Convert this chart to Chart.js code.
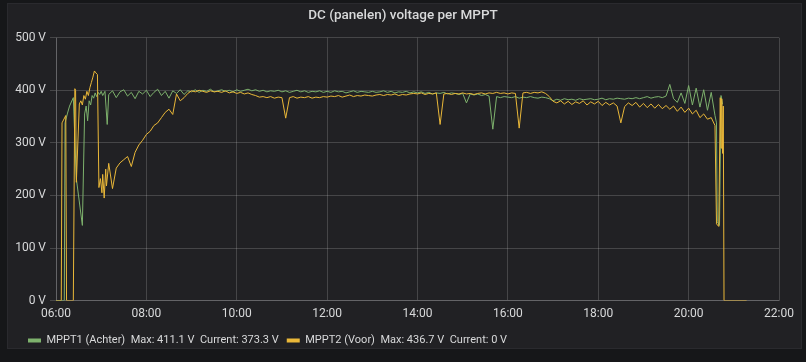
<!DOCTYPE html>
<html>
<head>
<meta charset="utf-8">
<script src="https://cdn.jsdelivr.net/npm/chart.js@4.4.1/dist/chart.umd.min.js"></script>
<style>
    html, body { margin: 0; padding: 0; background: #161719; }
    #panel {
        position: absolute; left: 7px; top: 3px; width: 795px; height: 346px;
        background: #212124; border: 1px solid #2a2a2e; box-sizing: border-box;
    }
    #wrap { position: absolute; left: 0; top: 0; width: 806px; height: 362px; }
</style>
</head>
<body>
<div id="panel"></div>
<div id="wrap"><canvas id="mpptChart" width="806" height="362"></canvas></div>
<script>
// Tick labels
const xTickLabels = ['06:00', '08:00', '10:00', '12:00', '14:00', '16:00', '18:00', '20:00', '22:00'];
const yTickValues = [0, 100, 200, 300, 400, 500];

const seriesNames = ['MPPT1 (Achter)', 'MPPT2 (Voor)'];
const seriesColors = ['#7eb26d', '#eab839'];

// Regular samples (every 5 minutes) from 07:10 to 20:35
const dayStart = '07:10';
const dayStepMin = 5;

// MPPT1 (Achter) - morning start-up, irregular samples
const mppt1Morning = [
    ['06:00', 0], ['06:11', 0], ['06:12', 338], ['06:15', 355], ['06:18', 370], ['06:23', 386],
    ['06:27', 232], ['06:35', 143], ['06:38', 355], ['06:40', 370], ['06:42', 342], ['06:44', 380],
    ['06:46', 372], ['06:48', 390], ['06:50', 385], ['06:52', 395], ['06:54', 388], ['06:56', 396],
    ['06:58', 392], ['07:00', 398], ['07:02', 390], ['07:05', 398], ['07:08', 335]
];
// MPPT1 - day, 5 minute samples
const mppt1Day = [
    392, 399, 386, 397, 401, 389, 396, 384, 398, 393,                  // 07:10
    400, 388, 396, 402, 390, 398, 385, 399, 394, 401, 392, 399,        // 08:00
    397, 401, 396, 400, 398, 402, 397, 399, 401, 398, 400, 397,        // 09:00
    401, 398, 400, 402, 399, 401, 398, 400, 397, 399, 398, 400,        // 10:00
    397, 399, 396, 398, 400, 397, 399, 396, 398, 397, 399, 396,        // 11:00
    398, 396, 399, 397, 398, 395, 397, 399, 396, 398, 397, 396,        // 12:00
    398, 396, 397, 399, 396, 398, 395, 397, 396, 398, 395, 397,        // 13:00
    395, 397, 394, 396, 393, 395, 394, 396, 393, 395, 394, 392,        // 14:00
    394, 376, 393, 391, 393, 390, 392, 389, 326, 388, 386, 388,        // 15:00
    387, 386, 388, 385, 387, 386, 388, 386, 385, 387, 386, 384,        // 16:00
    380, 383, 381, 384, 382, 383, 381, 384, 382, 383, 384, 382,        // 17:00
    383, 385, 382, 384, 383, 385, 384, 383, 385, 384, 386, 384,        // 18:00
    386, 388, 385, 387, 388, 386, 389, 411.1, 384, 377, 395, 375,      // 19:00
    409, 372, 404, 368, 401, 362, 396, 352                             // 20:00
];
// MPPT1 - evening shut-down
const mppt1Evening = [
    ['20:37', 338], ['20:38', 150], ['20:41', 143], ['20:43', 390], ['20:45', 373.3]
];

// MPPT2 (Voor) - morning start-up, irregular samples
const mppt2Morning = [
    ['06:00', 0], ['06:07', 0], ['06:08', 338], ['06:13', 352], ['06:14', 0], ['06:23', 0],
    ['06:25', 403], ['06:26', 400], ['06:27', 225], ['06:31', 374], ['06:33', 380], ['06:35', 372],
    ['06:37', 390], ['06:39', 383], ['06:41', 398], ['06:43', 390], ['06:45', 405], ['06:47', 415],
    ['06:49', 425], ['06:51', 436.7], ['06:53', 433], ['06:55', 430], ['06:57', 215], ['06:59', 232],
    ['07:01', 205], ['07:02', 240], ['07:04', 195], ['07:06', 250], ['07:07', 218]
];
// MPPT2 - day, 5 minute samples
const mppt2Day = [
    261, 213, 252, 262, 268, 274, 255, 282, 296, 305,                  // 07:10
    316, 322, 333, 338, 348, 358, 364, 354, 393, 380, 386, 394,        // 08:00
    399, 397, 400, 398, 396, 399, 397, 398, 396, 399, 395, 397,        // 09:00
    394, 396, 393, 395, 392, 390, 387, 388, 386, 388, 385, 387,        // 10:00
    386, 347, 386, 388, 385, 387, 386, 388, 385, 387, 386, 388,        // 11:00
    387, 389, 388, 390, 387, 389, 391, 388, 390, 389, 391, 390,        // 12:00
    389, 391, 392, 390, 392, 391, 393, 390, 392, 391, 393, 394,        // 13:00
    393, 395, 392, 394, 393, 395, 335, 393, 394, 392, 394, 393,        // 14:00
    395, 393, 394, 392, 394, 395, 393, 395, 394, 396, 394, 395,        // 15:00
    393, 395, 394, 328, 395, 396, 394, 396, 395, 397, 394, 388,        // 16:00
    379, 376, 380, 374, 379, 373, 378, 375, 380, 372, 378, 374,        // 17:00
    379, 371, 377, 372, 376, 370, 338, 369, 376, 371, 377, 368,        // 18:00
    375, 367, 374, 366, 373, 365, 371, 364, 370, 360, 368, 358,        // 19:00
    366, 355, 362, 348, 355, 345, 348, 333                             // 20:00
];
// MPPT2 - evening shut-down
const mppt2Evening = [
    ['20:37', 146], ['20:40', 141], ['20:42', 386], ['20:43', 290], ['20:44', 384],
    ['20:45', 280], ['20:46', 370], ['20:47', 0], ['21:17', 0]
];

function toMinutes(hhmm) {
    const parts = hhmm.split(':');
    return parseInt(parts[0], 10) * 60 + parseInt(parts[1], 10);
}

function buildSeries(morning, day, evening) {
    const points = morning.map(p => ({ x: toMinutes(p[0]), y: p[1] }));
    const start = toMinutes(dayStart);
    day.forEach((v, i) => points.push({ x: start + i * dayStepMin, y: v }));
    evening.forEach(p => points.push({ x: toMinutes(p[0]), y: p[1] }));
    return points;
}

function fmtVolt(v) {
    return (v === 0 ? '0' : v.toFixed(1)) + ' V';
}

const mppt1Points = buildSeries(mppt1Morning, mppt1Day, mppt1Evening);
const mppt2Points = buildSeries(mppt2Morning, mppt2Day, mppt2Evening);

function legendText(name, points) {
    const max = Math.max(...points.map(p => p.y));
    const current = points[points.length - 1].y;
    return name + '  Max: ' + fmtVolt(max) + '  Current: ' + fmtVolt(current);
}

const textColor = '#d8d9da';
const gridColor = 'rgba(255, 255, 255, 0.17)';

// nudge the legend a bit to the right, like the grafana panel
const legendNudge = {
    id: 'legendNudge',
    afterLayout: function(chart) {
        chart.legend.left += 8;
        chart.legend.right += 8;
    }
};

let mpptChart;
document.addEventListener('DOMContentLoaded', function() {
    const ctx = document.getElementById('mpptChart').getContext('2d');

    mpptChart = new Chart(ctx, {
        type: 'line',
        data: {
            datasets: [{
                label: seriesNames[0],
                data: mppt1Points,
                borderColor: seriesColors[0],
                backgroundColor: seriesColors[0],
                borderWidth: 1,
                pointRadius: 0,
                tension: 0,
                order: 2
            }, {
                label: seriesNames[1],
                data: mppt2Points,
                borderColor: seriesColors[1],
                backgroundColor: seriesColors[1],
                borderWidth: 1,
                pointRadius: 0,
                tension: 0,
                order: 1
            }]
        },
        plugins: [legendNudge],
        options: {
            responsive: false,
            animation: false,
            layout: {
                padding: { left: 12, right: 12, top: 6, bottom: 6 }
            },
            plugins: {
                title: {
                    display: true,
                    text: 'DC (panelen) voltage per MPPT',
                    color: textColor,
                    font: { family: 'Roboto', size: 13.5, weight: '500' },
                    padding: { top: 2, bottom: 13.5 }
                },
                legend: {
                    position: 'bottom',
                    align: 'start',
                    labels: {
                        color: textColor,
                        font: { family: 'Roboto', size: 11 },
                        boxWidth: 13,
                        boxHeight: 4,
                        useBorderRadius: true,
                        borderRadius: 2,
                        padding: 8,
                        generateLabels: function(chart) {
                            const sets = [mppt1Points, mppt2Points];
                            return seriesNames.map((name, i) => ({
                                text: legendText(name, sets[i]),
                                fillStyle: seriesColors[i],
                                strokeStyle: seriesColors[i],
                                lineWidth: 0,
                                fontColor: textColor,
                                datasetIndex: i,
                                hidden: false
                            }));
                        }
                    }
                },
                tooltip: { enabled: false }
            },
            scales: {
                x: {
                    type: 'linear',
                    min: toMinutes(xTickLabels[0]),
                    max: toMinutes(xTickLabels[xTickLabels.length - 1]),
                    afterBuildTicks: function(scale) {
                        scale.ticks = xTickLabels.map(t => ({ value: toMinutes(t) }));
                    },
                    ticks: {
                        color: textColor,
                        font: { family: 'Roboto', size: 12 },
                        padding: 6,
                        maxRotation: 0,
                        autoSkip: false,
                        callback: function(value) {
                            const h = Math.floor(value / 60);
                            return (h < 10 ? '0' : '') + h + ':00';
                        }
                    },
                    grid: { color: gridColor, drawTicks: false },
                    border: { color: gridColor }
                },
                y: {
                    min: yTickValues[0],
                    max: yTickValues[yTickValues.length - 1],
                    afterBuildTicks: function(scale) {
                        scale.ticks = yTickValues.map(v => ({ value: v }));
                    },
                    afterFit: function(scale) {
                        scale.width = 44;
                    },
                    ticks: {
                        color: textColor,
                        font: { family: 'Roboto', size: 12 },
                        padding: 4,
                        callback: function(value) {
                            return value + ' V';
                        }
                    },
                    grid: { color: gridColor, tickLength: 6 },
                    border: { color: gridColor }
                },
                // empty right-hand spacer so the title sits in the middle of the panel
                ySpacer: {
                    position: 'right',
                    min: 0,
                    max: 500,
                    afterFit: function(scale) {
                        scale.width = 15;
                    },
                    ticks: { display: false },
                    grid: { display: false, drawOnChartArea: false },
                    border: { display: false }
                }
            }
        }
    });
});
</script>
</body>
</html>
